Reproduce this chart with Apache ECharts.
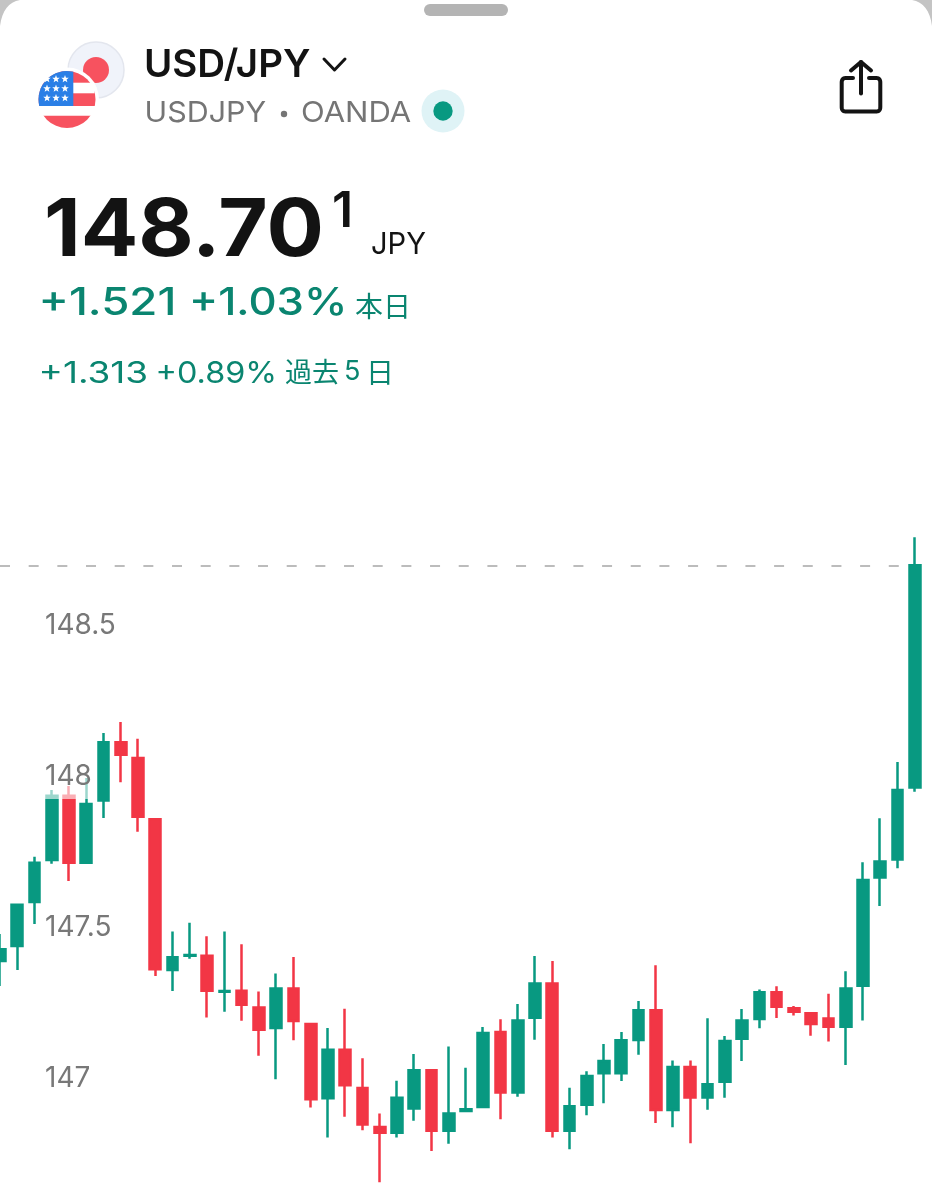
<!DOCTYPE html>
<html>
<head>
<meta charset="utf-8">
<title>USD/JPY</title>
<style>
  html, body { margin: 0; padding: 0; background: #fff; }
  #main { width: 932px; height: 1200px; }
</style>
<script src="https://cdn.jsdelivr.net/npm/echarts@6/dist/echarts.min.js"></script>
</head>
<body>
<div id="main"></div>
<script>
// candle values, left to right
var opens = [147.391,147.440,147.586,147.725,147.938,147.716,147.922,148.115,148.063,147.860,
  147.361,147.408,147.408,147.289,147.292,147.237,147.169,147.300,147.182,146.936,
  147.097,146.970,146.841,146.822,146.902,147.029,146.829,146.894,146.907,147.156,
  146.955,147.203,147.316,146.829,146.915,147.019,147.019,147.129,147.228,146.897,
  147.040,146.939,146.991,147.133,147.199,147.287,147.234,147.218,147.200,147.173,
  147.309,147.667,147.727,147.965];
var closes = [147.430,147.577,147.716,147.938,147.716,147.911,148.115,148.074,147.868,147.363,
  147.403,147.411,147.292,147.291,147.246,147.163,147.300,147.192,146.933,147.097,
  146.979,146.849,146.822,146.938,147.029,146.829,146.886,146.900,147.152,146.955,
  147.194,147.316,146.829,146.910,147.010,147.060,147.128,147.228,146.897,147.040,
  146.939,146.983,147.126,147.194,147.287,147.239,147.223,147.182,147.173,147.300,
  147.659,147.720,147.957,148.701];
var lows = [147.308,147.361,147.513,147.713,147.656,147.716,147.864,147.983,147.819,147.341,
  147.291,147.398,147.204,147.223,147.193,147.077,146.999,147.128,146.906,146.806,
  146.875,146.830,146.658,146.806,146.862,146.762,146.786,146.894,146.907,146.867,
  146.941,147.130,146.806,146.767,146.880,146.920,146.993,147.080,146.854,146.840,
  146.787,146.898,146.938,147.060,147.168,147.202,147.210,147.143,147.124,147.046,
  147.194,147.573,147.698,147.951];
var highs = [147.480,147.577,147.736,147.957,147.970,147.997,148.146,148.182,148.127,147.860,
  147.488,147.517,147.473,147.488,147.446,147.290,147.349,147.404,147.182,147.169,
  147.233,147.069,146.886,146.994,147.083,147.029,147.108,147.037,147.172,147.198,
  147.248,147.407,147.391,146.971,147.026,147.116,147.156,147.258,147.377,147.061,
  147.061,147.201,147.142,147.232,147.296,147.307,147.242,147.218,147.282,147.357,
  147.718,147.863,148.050,148.794];
var lastPrice = 148.701;

var upColor = '#089981';
var downColor = '#f23645';
var textGreen = '#0a8570';
var latin = 'Inter, "Noto Sans", sans-serif';
var cjk = '"Noto Sans CJK JP", sans-serif';

var categories = opens.map(function (v, i) { return String(i); });
var candles = opens.map(function (v, i) { return [v, closes[i], lows[i], highs[i]]; });

// sx stretches the text sideways, the app font is wider than Inter
function label(text, x, y, font, fill, sx) {
  return { type: 'text', silent: true, x: x, y: y, scaleX: sx || 1, style: {
    text: text, x: 0, y: 0, font: font + ' ' + (/[^\x00-\x7f]/.test(text) ? cjk : latin),
    fill: fill, textVerticalAlign: 'middle'
  } };
}
function circle(cx, cy, r, fill, stroke) {
  return { type: 'circle', silent: true, shape: { cx: cx, cy: cy, r: r },
    style: { fill: fill, stroke: stroke || null, lineWidth: stroke ? 1.5 : 0 } };
}
function box(x, y, w, h, fill, r) {
  return { type: 'rect', silent: true, shape: { x: x, y: y, width: w, height: h, r: r || 0 }, style: { fill: fill } };
}
function stroke(points, color, width) {
  return { type: 'polyline', silent: true, shape: { points: points },
    style: { fill: null, stroke: color, lineWidth: width, lineCap: 'round', lineJoin: 'round' } };
}
function fillShape(points, color) {
  return { type: 'polygon', silent: true, shape: { points: points }, style: { fill: color } };
}
// quarter-ish curve sampled to points, so polygon and polyline can carry it
function curve(a, c, b) {
  var pts = [];
  for (var i = 0; i <= 8; i++) {
    var t = i / 8, u = 1 - t;
    pts.push([u * u * a[0] + 2 * u * t * c[0] + t * t * b[0], u * u * a[1] + 2 * u * t * c[1] + t * t * b[1]]);
  }
  return pts;
}
function star(cx, cy, r) {
  var pts = [];
  for (var i = 0; i < 10; i++) {
    var a = -Math.PI / 2 + i * Math.PI / 5, k = i % 2 ? r * 0.42 : r;
    pts.push([cx + k * Math.cos(a), cy + k * Math.sin(a)]);
  }
  return fillShape(pts, '#fff');
}
// blue canton of the US flag: the part of the disc left of x and above y
function canton(cx, cy, r, x, y) {
  var pts = [[x, y]];
  var a0 = Math.PI + Math.asin((y - cy) / r) * -1;
  var a1 = Math.PI * 2 - Math.acos((x - cx) / r);
  for (var i = 0; i <= 16; i++) {
    var a = a0 + (a1 - a0) * i / 16;
    pts.push([cx + r * Math.cos(a), cy + r * Math.sin(a)]);
  }
  return fillShape(pts, '#2a7fe6');
}

var shareBox = [[853, 78], [846, 78]]
  .concat(curve([846, 78], [841.7, 78], [841.7, 82.5]))
  .concat(curve([841.7, 107], [841.7, 111.5], [846, 111.5]))
  .concat(curve([876, 111.5], [880.3, 111.5], [880.3, 107]))
  .concat(curve([880.3, 82.5], [880.3, 78], [876, 78]))
  .concat([[869, 78]]);

var header = [
  // sheet corners + handle
  fillShape([[0, 0]].concat(curve([20, 0], [3, 3], [0, 26])), '#c4c4c4'),
  fillShape([[932, 0]].concat(curve([912, 0], [929, 3], [932, 26])), '#c4c4c4'),
  box(424, 4, 84, 12, '#b4b4b4', 6),
  // flags
  circle(96, 70, 28, '#f0f3fa', '#e3e6ee'),
  circle(96, 70, 13, '#f7525f'),
  circle(67, 99.5, 32, '#ffffff'),
  circle(67, 99.5, 28.5, '#f7525f'),
  box(73, 82.7, 21.5, 10.6, '#ffffff'),
  box(34, 106, 66, 9.7, '#ffffff'),
  canton(67, 99.5, 28.5, 73.3, 106)
];
[47, 56, 65].forEach(function (x) {
  [79, 88.5, 98].forEach(function (y) { header.push(star(x, y, 4)); });
});
header = header.concat([
  label('USD/JPY', 144, 65.5, '600 38.5px', '#131313', 1.0),
  stroke([[324, 59], [334.5, 70], [345, 59]], '#131313', 3),
  label('USDJPY', 144.5, 113.5, '400 29px', '#757575', 1.05),
  circle(284, 114, 3.2, '#757575'),
  label('OANDA', 301, 113.5, '400 29px', '#757575', 1.07),
  circle(443, 111, 21.5, '#dff3f6'),
  circle(443, 111, 9.7, upColor),
  stroke(shareBox, '#131313', 4),
  stroke([[861, 93.5], [861, 62]], '#131313', 4),
  stroke([[851, 70.5], [861, 62], [871, 70.5]], '#131313', 4),
  label('148.70', 44, 232, '700 80px', '#131313', 1.065),
  label('1', 332, 211.5, '600 50px', '#131313'),
  label('JPY', 371, 245, '400 30px', '#131313', 0.97),
  label('+1.521', 38.5, 304, '500 38px', textGreen, 1.2),
  label('+1.03%', 189, 304, '500 38px', textGreen, 1.15),
  label('本日', 355, 306, '400 28px', textGreen),
  label('+1.313', 38.5, 373.5, '400 30px', textGreen, 1.23),
  label('+0.89%', 155.5, 373.5, '400 30px', textGreen, 1.08),
  label('過去', 285, 372, '400 27px', textGreen),
  label('5', 344, 372, '400 27px', textGreen),
  label('日', 366, 372, '400 28px', textGreen)
]);

var dom = document.getElementById('main');
var myChart = echarts.init(dom);

var option = {
  animation: false,
  backgroundColor: '#ffffff',
  grid: { left: 0, right: 17.3, top: 475, height: 755, outerBoundsMode: 'none' },
  xAxis: {
    type: 'category',
    data: categories,
    boundaryGap: false,
    show: false
  },
  yAxis: {
    type: 'value',
    min: 146.5,
    max: 149,
    interval: 0.5,
    z: 5,
    axisLine: { show: false },
    axisTick: { show: false },
    splitLine: { show: false },
    axisLabel: {
      inside: true,
      margin: 45,
      color: '#787878',
      fontSize: 28,
      fontFamily: 'Inter',
      showMinLabel: false,
      showMaxLabel: false,
      backgroundColor: 'rgba(255,255,255,0.6)',
      padding: [10, 2, 6, 0]
    }
  },
  series: [{
    type: 'candlestick',
    data: candles,
    barWidth: 11.2,
    clip: false,
    silent: true,
    itemStyle: {
      color: upColor,
      color0: downColor,
      borderColor: upColor,
      borderColor0: downColor,
      borderWidth: 2.5
    },
    markLine: {
      silent: true,
      z: 1,
      symbol: 'none',
      label: { show: false },
      lineStyle: { color: '#a6a6a6', width: 1.5, type: [10, 18.67] },
      data: [{ yAxis: lastPrice }]
    }
  }],
  graphic: { elements: header }
};

myChart.setOption(option);

window.addEventListener('resize', function () {
  myChart.resize();
});
</script>
</body>
</html>
